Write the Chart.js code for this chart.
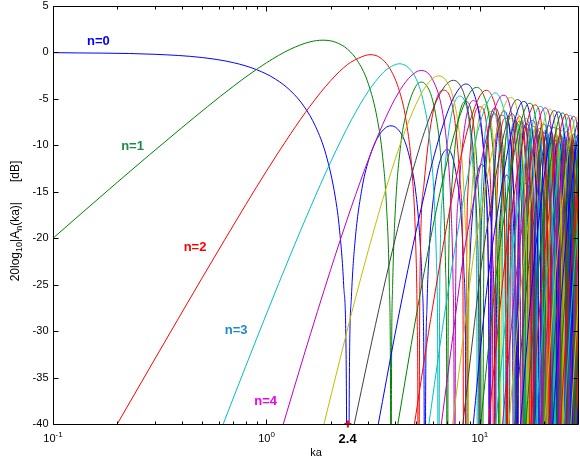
<!DOCTYPE html>
<html><head><meta charset="utf-8">
<script src="https://cdn.jsdelivr.net/npm/chart.js@4.4.1/dist/chart.umd.min.js"></script>
<style>html,body{margin:0;padding:0;background:#fff}#wrap{width:580px;height:459px;position:relative}</style>
</head><body><div id="wrap"><canvas id="c" width="580" height="459"></canvas></div>
<script>
// ---- axes / labels ----
const xTicksMajor = [0.1, 1, 10];
const xTickLabels = [['10', '-1'], ['10', '0'], ['10', '1']];
const xTicksMinor = [0.2, 0.3, 0.4, 0.5, 0.6, 0.7, 0.8, 0.9, 2, 3, 4, 5, 6, 7, 8, 9, 20];
const yTicks = [5, 0, -5, -10, -15, -20, -25, -30, -35, -40];
const curveLabels = [
  { text: 'n=0', x: 0.1632, y: 1.2, color: '#0000ff' },
  { text: 'n=1', x: 0.2358, y: -10.1, color: '#1e8a4a' },
  { text: 'n=2', x: 0.4627, y: -21.0, color: '#ff0000' },
  { text: 'n=3', x: 0.7205, y: -29.9, color: '#1e88cf' },
  { text: 'n=4', x: 0.9904, y: -37.6, color: '#ee00ee' }
];
const marker = [[2.405, -40]];
const markerLabel = { text: '2.4', x: 2.4 };
const palette = ['#0000ff', '#008000', '#ff0000', '#00bfbf', '#bf00bf', '#bfbf00', '#404040'];

// ---- curves: [ka, dB] ----
const n0 = [[0.1,-0.02],[0.3,-0.2],[0.5,-0.55],[0.7,-1.1],[0.9,-1.86],[1.1,-2.86],[1.3,-4.15],[1.5,-5.82],[1.7,-8.0],[1.9,-11.0],[2.1,-15.57],[2.2,-19.14],[2.3,-25.1],[2.36,-32.5],[2.405,-60],
[2.45,-32.7],[2.5,-26.3],[2.6,-20.3],[2.8,-14.66],[3.0,-11.7],[3.3,-9.26],[3.6,-8.14],[3.83,-7.9],[4.1,-8.21],[4.4,-9.31],[4.7,-11.48],[5.0,-15.01],[5.2,-19.15],[5.35,-24.6],[5.47,-35.3],[5.52,-60],
[5.57,-35.4],[5.65,-27.2],[5.8,-20.75],[6.0,-16.44],[6.3,-13.0],[6.6,-11.24],[7.0,-10.45],[7.4,-11.1],[7.8,-13.6],[8.1,-16.6],[8.4,-23.2],[8.55,-31.0],[8.654,-60],
[8.75,-32.5],[8.97,-22.3],[9.44,-15.1],[10.17,-12.05],[10.99,-15.1],[11.48,-22.3],[11.7,-32.5],[11.79,-60],
[11.89,-33.7],[12.11,-23.4],[12.58,-16.2],[13.32,-13.2],[14.15,-16.2],[14.62,-23.4],[14.84,-33.7],[14.93,-60],
[15.245,-24.3],[16.47,-14.1],[17.757,-24.3],[18.071,-45],
[18.385,-25.1],[19.62,-14.9],[20.898,-25.1],[21.212,-45],
[21.526,-25.7],[22.76,-15.5],[24.038,-25.7],[24.352,-45],
[24.666,-26.3],[25.9,-16.1],[27.18,-26.3],[27.494,-45],
[27.808,-26.8],[29.05,-16.6],[30.32,-26.8]];
const n1 = [[0.1,-20.0],[0.2,-13.98],[0.4,-8.13],[0.7,-3.64],[1.0,-1.11],[1.3,0.37],[1.6,1.14],[1.84,1.32],[2.1,1.11],[2.4,0.34],[2.7,-1.08],[3.0,-3.37],[3.3,-7.1],[3.5,-11.2],[3.65,-16.6],[3.76,-24.9],[3.81,-35.8],[3.832,-60],
[3.85,-35.9],[3.9,-25.05],[4.0,-17.6],[4.25,-10.0],[4.5,-6.7],[5.0,-3.67],[5.33,-3.19],[5.75,-3.94],[6.0,-5.14],[6.25,-7.15],[6.5,-10.24],[6.75,-16.06],[6.9,-23.2],[6.98,-33.4],[7.016,-60],
[7.111,-25.75],[7.332,-15.45],[7.805,-8.25],[8.536,-5.25],[9.384,-8.25],[9.857,-15.45],[10.078,-25.75],[10.173,-60],
[10.488,-16.8],[11.706,-6.62],[13.009,-16.8],[13.324,-45],
[13.639,-17.9],[14.864,-7.66],[16.156,-17.9],[16.471,-45],
[16.786,-18.7],[18.016,-8.5],[19.301,-18.7],[19.616,-45],
[19.93,-19.4],[21.164,-9.2],[22.446,-19.4],[22.76,-45],
[23.074,-20.0],[24.311,-9.8],[25.59,-20.0],[25.904,-45],
[26.218,-20.5],[27.457,-10.33],[28.733,-20.5],[29.047,-45]];
const n2 = [[0.2,-40],[0.3,-33.0],[0.5,-24.26],[0.8,-16.38],[1.0,-12.77],[1.3,-8.73],[1.6,-5.78],[2.0,-3.03],[2.4,-1.29],[2.7,-0.62],[3.054,-0.24],[3.4,-0.55],[3.8,-1.8],[4.2,-4.2],[4.5,-7.22],[4.8,-12.72],[5.0,-20.6],[5.08,-28.5],[5.12,-39.5],[5.136,-60],
[5.234,-24.55],[5.464,-14.25],[5.956,-7.05],[6.706,-4.05],[7.597,-7.05],[8.089,-14.25],[8.319,-24.55],[8.417,-60],
[8.737,-16.06],[10.018,-5.86],[11.3,-16.06],[11.62,-45],
[11.938,-17.3],[13.208,-7.1],[14.478,-17.3],[14.796,-45],
[15.112,-18.25],[16.378,-8.05],[17.644,-18.25],[17.96,-45],
[18.276,-19.0],[19.538,-8.83],[20.801,-19.0],[21.117,-45],
[21.432,-19.7],[22.694,-9.48],[23.955,-19.7],[24.27,-45],
[24.585,-20.25],[25.845,-10.05],[27.105,-20.25],[27.421,-45],
[27.736,-20.75],[28.996,-10.55],[30.26,-20.75]];
const n3 = [[0.627,-40],[0.8,-33.77],[1.0,-28.15],[1.3,-21.69],[1.6,-16.78],[2.0,-11.77],[2.5,-7.26],[3.0,-4.18],[3.5,-2.23],[3.85,-1.5],[4.2,-1.22],[4.6,-1.6],[5.0,-2.74],[5.4,-5.05],[5.8,-9.22],[6.1,-15.63],[6.25,-22.3],[6.34,-32.5],[6.38,-60],
[6.481,-25.2],[6.718,-14.9],[7.225,-7.7],[8.015,-4.7],[8.916,-7.7],[9.423,-14.9],[9.66,-25.2],[9.761,-60],
[10.086,-16.55],[11.388,-6.35],[12.69,-16.55],[13.015,-45],
[13.336,-17.7],[14.619,-7.5],[15.903,-17.7],[16.224,-45],
[16.542,-18.6],[17.816,-8.39],[19.091,-18.6],[19.409,-45],
[19.727,-19.3],[20.996,-9.12],[22.266,-19.3],[22.583,-45],
[22.9,-19.9],[24.165,-9.74],[25.432,-19.9],[25.748,-45],
[26.064,-20.5],[27.328,-10.28],[28.592,-20.5],[28.908,-45],
[29.224,-20.9]];
const n4 = [[1.199,-40],[1.5,-32.56],[2.0,-23.35],[2.5,-16.62],[3.0,-11.56],[3.5,-7.77],[4.0,-5.0],[4.5,-3.14],[5.0,-2.13],[5.318,-1.94],[5.7,-2.22],[6.0,-2.91],[6.6,-5.8],[7.0,-10.02],[7.3,-16.15],[7.48,-24.7],[7.56,-36.4],[7.588,-60],
[7.692,-25.7],[7.936,-15.4],[8.457,-8.2],[9.282,-5.18],[10.196,-8.2],[10.717,-15.4],[10.961,-25.7],[11.065,-60],
[11.396,-17.0],[12.719,-6.76],[14.042,-17.0],[14.373,-45],
[14.697,-18.0],[15.994,-7.84],[17.292,-18.0],[17.616,-45],
[17.937,-18.9],[19.221,-8.68],[20.506,-18.9],[20.827,-45],
[21.146,-19.6],[22.423,-9.38],[23.7,-19.6],[24.019,-45],
[24.337,-20.2],[25.609,-9.97],[26.881,-20.2],[27.199,-45],
[27.516,-20.7],[28.78,-10.49],[30.05,-20.7]];
const n5 = [[1.859,-40],[2.2,-33.2],[2.5,-28.13],[3.0,-21.3],[3.5,-15.87],[4.0,-11.56],[4.5,-8.19],[5.0,-5.64],[5.5,-3.85],[6.0,-2.8],[6.416,-2.52],[6.9,-2.95],[7.4,-4.44],[7.9,-7.67],[8.3,-12.6],[8.55,-18.9],[8.7,-28.5],[8.772,-60],
[8.879,-26.1],[9.128,-15.8],[9.664,-8.6],[10.52,-5.6],[11.447,-8.6],[11.982,-15.8],[12.232,-26.1],[12.339,-60],
[12.675,-17.3],[14.019,-7.11],[15.364,-17.3],[15.7,-45],
[16.028,-18.3],[17.34,-8.14],[18.652,-18.3],[18.98,-45],
[19.304,-19.15],[20.599,-8.95],[21.894,-19.15],[22.218,-45],
[22.539,-19.8],[23.824,-9.61],[25.109,-19.8],[25.43,-45],
[25.75,-20.4],[27.028,-10.18],[28.307,-20.4],[28.627,-45],
[28.945,-20.9],[30.22,-10.7]];
const n6 = [[2.578,-40],[3.0,-32.85],[3.5,-25.86],[4.0,-20.16],[4.5,-15.45],[5.0,-11.63],[5.5,-8.52],[6.0,-6.17],[6.5,-4.45],[7.0,-3.37],[7.501,-3.0],[8.0,-3.41],[8.5,-4.8],[9.0,-7.77],[9.4,-12.17],[9.7,-19.0],[9.86,-28.6],[9.936,-60],
[10.046,-26.5],[10.301,-16.2],[10.849,-9.0],[11.735,-5.98],[12.676,-9.0],[13.224,-16.2],[13.479,-26.5],[13.589,-60],
[13.93,-17.6],[15.297,-7.42],[16.663,-17.6],[17.004,-45],
[17.336,-18.6],[18.662,-8.41],[19.989,-18.6],[20.321,-45],
[20.648,-19.4],[21.953,-9.19],[23.259,-19.4],[23.586,-45],
[23.909,-20.0],[25.203,-9.83],[26.497,-20.0],[26.82,-45],
[27.141,-20.6],[28.425,-10.38],[29.71,-20.6]];
const n7 = [[3.34,-40],[4.0,-30.35],[5.0,-19.43],[6.0,-11.73],[7.0,-6.61],[7.8,-4.24],[8.578,-3.4],[9.3,-4.22],[10.0,-7.26],[10.5,-11.84],[10.8,-17.64],[10.98,-25.8],[11.05,-35.2],[11.086,-60],
[11.198,-26.8],[11.46,-16.5],[12.02,-9.3],[12.93,-6.3],[13.887,-9.3],[14.447,-16.5],[14.709,-26.8],[14.821,-60],
[15.168,-17.9],[16.554,-7.7],[17.941,-17.9],[18.288,-45],
[18.623,-18.9],[19.965,-8.66],[21.306,-18.9],[21.642,-45],
[21.971,-19.6],[23.288,-9.41],[24.606,-19.6],[24.935,-45],
[25.261,-20.2],[26.563,-10.03],[27.865,-20.2],[28.191,-45],
[28.51,-20.7],[29.8,-10.5]];
const n8 = [[4.125,-40],[5.0,-28.68],[6.0,-18.93],[7.0,-11.84],[8.0,-7.0],[9.0,-4.29],[9.647,-3.76],[10.3,-4.37],[11.0,-6.73],[11.6,-11.78],[11.95,-18.47],[12.12,-26.5],[12.19,-36.0],[12.225,-60],
[12.339,-27.1],[12.606,-16.8],[13.178,-9.6],[14.116,-6.6],[15.085,-9.6],[15.657,-16.8],[15.924,-27.1],[16.038,-60],
[16.39,-18.15],[17.796,-7.95],[19.203,-18.15],[19.555,-45],
[19.893,-19.1],[21.25,-8.88],[22.606,-19.1],[22.945,-45],
[23.277,-19.8],[24.606,-9.61],[25.935,-19.8],[26.267,-45],
[26.595,-20.4],[27.906,-10.21],[29.218,-20.4],[29.546,-45]];
const n9 = [[4.935,-40],[5.5,-32.9],[6.0,-27.44],[7.0,-18.57],[8.0,-11.95],[9.0,-7.34],[10.0,-4.67],[10.711,-4.07],[11.4,-4.75],[12.0,-6.73],[12.7,-12.57],[13.05,-19.0],[13.24,-27.3],[13.31,-35.6],[13.354,-60],
[13.471,-27.4],[13.743,-17.1],[14.326,-9.9],[15.286,-6.86],[16.269,-9.9],[16.852,-17.1],[17.124,-27.4],[17.241,-60],
[17.598,-18.4],[19.024,-8.18],[20.45,-18.4],[20.807,-45],
[21.15,-19.3],[22.52,-9.09],[23.891,-19.3],[24.234,-45],
[24.569,-20.0],[25.909,-9.8],[27.249,-20.0],[27.584,-45],
[27.913,-20.5],[29.23,-10.38]];
const n10 = [[5.765,-40],[6.5,-31.5],[7.0,-26.54],[8.0,-18.31],[9.0,-12.06],[10.0,-7.64],[11.0,-5.1],[11.771,-4.35],[12.5,-5.08],[13.2,-7.45],[13.8,-13.07],[14.2,-20.3],[14.38,-29.3],[14.4755,-60],
[14.595,-27.6],[14.872,-17.3],[15.466,-10.1],[16.448,-7.1],[17.444,-10.1],[18.038,-17.3],[18.315,-27.6],[18.434,-60],
[18.795,-18.6],[20.24,-8.4],[21.686,-18.6],[22.047,-45],
[22.393,-19.5],[23.778,-9.28],[25.163,-19.5],[25.51,-45],
[25.847,-20.2],[27.198,-9.97],[28.55,-20.2],[28.887,-45],
[29.225,-20.7]];
const n11 = [[6.594,-40],[7.517,-30],[8.352,-22.08],[9.235,-16.57],[11.0,-8.19],[12.827,-4.61],[13.838,-5.86],[14.884,-12.06],[15.302,-19.3],[15.512,-30.7],[15.59,-50],
[15.993,-17.5],[17.603,-7.32],[19.213,-17.5],[19.616,-45],
[19.982,-18.8],[21.446,-8.59],[22.91,-18.8],[23.276,-45],
[23.626,-19.7],[25.025,-9.46],[26.424,-19.7],[26.773,-45],
[27.116,-20.3],[28.49,-10.14],[29.86,-20.3]];
const n12 = [[7.448,-40],[8.421,-30],[9.274,-22.32],[10.183,-16.81],[12.0,-8.43],[13.883,-4.86],[14.911,-6.1],[15.978,-12.3],[16.405,-19.54],[16.618,-30.9],[16.698,-50],
[17.107,-17.7],[18.744,-7.52],[20.381,-17.7],[20.79,-45],
[21.16,-19.0],[22.642,-8.77],[24.124,-19.0],[24.495,-45],
[24.848,-19.8],[26.261,-9.62],[27.674,-19.8],[28.027,-45],
[28.374,-20.5],[29.76,-10.3]];
const n13 = [[8.315,-40],[9.333,-30],[10.201,-22.54],[11.134,-17.03],[13.0,-8.65],[14.932,-5.08],[15.979,-6.32],[17.067,-12.52],[17.502,-19.76],[17.72,-31.2],[17.801,-50],
[18.217,-17.9],[19.879,-7.71],[21.541,-17.9],[21.956,-45],
[22.331,-19.1],[23.831,-8.94],[25.33,-19.1],[25.705,-45],
[26.062,-20.0],[27.488,-9.78],[28.914,-20.0],[29.271,-45]];
const n14 = [[9.304,-40],[10.251,-30],[11.131,-22.74],[12.087,-17.23],[14.0,-8.85],[15.979,-5.28],[17.045,-6.52],[18.152,-12.72],[18.595,-19.96],[18.817,-31.4],[18.9,-50],
[19.322,-18.1],[21.008,-7.89],[22.694,-18.1],[23.116,-45],
[23.495,-19.3],[25.012,-9.11],[26.528,-19.3],[26.907,-45],
[27.273,-20.1],[28.73,-9.93],[30.19,-20.1]];
const n15 = [[10.072,-40],[11.174,-30],[12.064,-22.93],[13.043,-17.42],[15.0,-9.04],[17.024,-5.47],[18.107,-6.71],[19.234,-12.91],[19.684,-20.15],[19.91,-31.5],[19.994,-50],
[20.422,-18.3],[22.132,-8.06],[23.842,-18.3],[24.269,-45],
[24.652,-19.5],[26.186,-9.26],[27.719,-19.5],[28.102,-45],
[28.47,-20.3],[29.95,-10.1]];
const n16 = [[10.961,-40],[12.103,-30],[13.0,-23.1],[14.0,-17.59],[16.0,-9.21],[18.066,-5.65],[19.168,-6.88],[20.312,-13.08],[20.77,-20.32],[20.999,-31.7],[21.085,-50],
[21.518,-18.4],[23.251,-8.21],[24.984,-18.4],[25.417,-45],
[25.804,-19.6],[27.354,-9.4],[28.904,-19.6],[29.291,-45]];
const n17 = [[11.857,-40],[13.034,-30],[13.939,-23.27],[14.959,-17.76],[17.0,-9.38],[19.107,-5.81],[20.225,-7.05],[21.388,-13.25],[21.853,-20.49],[22.085,-31.9],[22.173,-50],
[22.611,-18.6],[24.366,-8.36],[26.121,-18.6],[26.56,-45],
[26.951,-19.7],[28.515,-9.54],[30.08,-19.7]];
const n18 = [[12.756,-40],[13.97,-30],[14.88,-23.43],[15.92,-17.92],[18.0,-9.54],[20.147,-5.97],[21.281,-7.21],[22.46,-13.41],[22.932,-20.65],[23.168,-32.0],[23.257,-50],
[23.701,-18.7],[25.477,-8.5],[27.253,-18.7],[27.698,-45],
[28.093,-19.9],[29.67,-9.7]];
const n19 = [[13.66,-40],[14.907,-30],[15.823,-23.58],[16.882,-18.07],[19.0,-9.69],[21.185,-6.12],[22.335,-7.36],[23.531,-13.56],[24.009,-20.8],[24.248,-32.2],[24.338,-50],
[24.788,-18.8],[26.585,-8.63],[28.382,-18.8],[28.832,-45],
[29.23,-20.0]];
const n20 = [[14.57,-40],[15.849,-30],[16.768,-23.72],[17.846,-18.21],[20.0,-9.83],[22.222,-6.26],[23.388,-7.5],[24.599,-13.7],[25.084,-20.94],[25.325,-32.3],[25.417,-50],
[25.871,-19.0],[27.689,-8.76],[29.508,-19.0]];
const n21 = [[15.482,-40],[16.793,-30],[17.715,-23.86],[18.81,-18.35],[21.0,-9.97],[23.257,-6.4],[24.438,-7.64],[25.665,-13.84],[26.156,-21.08],[26.401,-32.5],[26.494,-50],
[26.955,-19.1],[28.8,-8.89],[30.64,-19.1]];
const n22 = [[16.4,-40],[17.741,-30],[18.664,-23.98],[19.776,-18.47],[22.0,-10.09],[24.292,-6.52],[25.487,-7.76],[26.729,-13.96],[27.226,-21.2],[27.474,-32.6],[27.568,-50],
[28.033,-19.2],[29.89,-9.0]];
const n23 = [[17.319,-40],[18.689,-30],[19.614,-24.11],[20.743,-18.6],[23.0,-10.22],[25.325,-6.65],[26.535,-7.89],[27.791,-14.09],[28.294,-21.3],[28.546,-32.7],[28.64,-50],
[29.11,-19.3],[30.99,-9.1]];
const n24 = [[18.241,-40],[19.639,-30],[20.566,-24.22],[21.711,-18.71],[24.0,-10.33],[26.358,-6.77],[27.581,-8.0],[28.852,-14.2],[29.36,-21.4]];
const n25 = [[19.166,-40],[20.593,-30],[21.519,-24.34],[22.679,-18.83],[25.0,-10.45],[27.389,-6.88],[28.626,-8.12],[29.91,-14.3]];
const n26 = [[20.093,-40],[21.548,-30],[22.473,-24.45],[23.649,-18.94],[26.0,-10.56],[28.42,-6.99],[29.67,-8.23]];
const n27 = [[21.023,-40],[22.504,-30],[23.428,-24.55],[24.619,-19.04],[27.0,-10.66],[28.191,-8.12],[29.45,-7.09]];
const n28 = [[21.956,-40],[23.462,-30],[24.385,-24.65],[25.59,-19.14],[28.0,-10.76],[29.205,-8.22]];
const n29 = [[22.887,-40],[24.421,-30],[25.343,-24.75],[26.562,-19.24],[29.0,-10.86],[30.2,-8.3]];
const n30 = [[23.823,-40],[25.383,-30],[26.301,-24.85],[27.534,-19.34],[30.0,-10.96]];
const n31 = [[24.76,-40],[26.345,-30],[27.26,-24.94],[28.507,-19.43],[31.0,-11.05]];
const n32 = [[25.699,-40],[27.309,-30],[28.22,-25.03],[29.48,-19.52]];
const n33 = [[26.641,-40],[28.271,-30],[29.181,-25.11]];
const n34 = [[27.584,-40],[29.237,-30]];
const n35 = [[28.527,-40],[30.2,-30]];

const curves = [n0,n1,n2,n3,n4,n5,n6,n7,n8,n9,n10,n11,n12,n13,n14,n15,n16,n17,n18,n19,n20,n21,n22,n23,n24,n25,n26,n27,n28,n29,n30,n31,n32,n33,n34,n35];

const FONT = '"Liberation Sans", Arial, Helvetica, sans-serif';

const datasets = curves.map((d, n) => ({
  data: d,
  showLine: true,
  borderColor: palette[n % 7],
  backgroundColor: palette[n % 7],
  borderWidth: 1,
  pointRadius: 0,
  pointHoverRadius: 0,
  pointHitRadius: 0,
  cubicInterpolationMode: 'monotone',
  fill: false,
  order: 100 - n
}));
datasets.push({
  data: marker, showLine: false, pointStyle: 'cross', pointRadius: 3.5,
  borderColor: '#ff0000', backgroundColor: '#ff0000', borderWidth: 2, clip: false, order: 0
});

function richText(ctx, parts, cx, cy, rotate) {
  ctx.save();
  ctx.translate(cx, cy);
  if (rotate) ctx.rotate(-Math.PI / 2);
  let total = 0;
  parts.forEach(p => { ctx.font = p.font; p.w = ctx.measureText(p.t).width; total += p.w; });
  let x = -total / 2;
  ctx.textAlign = 'left';
  ctx.textBaseline = 'alphabetic';
  parts.forEach(p => { ctx.font = p.font; ctx.fillText(p.t, x, p.dy); x += p.w; });
  ctx.restore();
}

const decor = {
  id: 'decor',
  afterDraw(chart) {
    const ctx = chart.ctx, a = chart.chartArea, xs = chart.scales.x, ys = chart.scales.y;
    const L = Math.round(a.left) + 0.5, R = Math.round(a.right) - 0.5;
    const T = Math.round(a.top) + 0.5, B = Math.round(a.bottom) + 0.5;
    ctx.save();
    ctx.strokeStyle = '#000';
    ctx.lineWidth = 1;
    ctx.beginPath();
    ctx.rect(L, T, R - L, B - T);
    yTicks.forEach(v => {
      const p = Math.round(ys.getPixelForValue(v)) + 0.5;
      ctx.moveTo(L, p); ctx.lineTo(L + 5, p);
      ctx.moveTo(R, p); ctx.lineTo(R - 5, p);
    });
    xTicksMajor.forEach(v => {
      const p = Math.round(xs.getPixelForValue(v)) + 0.5;
      ctx.moveTo(p, B); ctx.lineTo(p, B - 5);
      ctx.moveTo(p, T); ctx.lineTo(p, T + 5);
    });
    xTicksMinor.forEach(v => {
      const p = Math.round(xs.getPixelForValue(v)) + 0.5;
      ctx.moveTo(p, B); ctx.lineTo(p, B - 3);
      ctx.moveTo(p, T); ctx.lineTo(p, T + 3);
    });
    ctx.stroke();

    ctx.fillStyle = '#000';
    ctx.font = '11px ' + FONT;
    ctx.textAlign = 'right';
    ctx.textBaseline = 'middle';
    yTicks.forEach(v => ctx.fillText(String(v), L - 5, ys.getPixelForValue(v)));

    xTicksMajor.forEach((v, i) => {
      const p = xs.getPixelForValue(v);
      const [base, sup] = xTickLabels[i];
      ctx.font = '11px ' + FONT; const wb = ctx.measureText(base).width;
      ctx.font = '8px ' + FONT; const ws = ctx.measureText(sup).width;
      const x0 = p - (wb + ws) / 2;
      ctx.textAlign = 'left'; ctx.textBaseline = 'alphabetic';
      ctx.font = '11px ' + FONT; ctx.fillText(base, x0, 442);
      ctx.font = '8px ' + FONT; ctx.fillText(sup, x0 + wb, 437);
    });

    ctx.textAlign = 'center';
    ctx.textBaseline = 'alphabetic';
    ctx.font = 'bold 13px ' + FONT;
    ctx.fillText(markerLabel.text, xs.getPixelForValue(markerLabel.x), 443);
    ctx.font = '11px ' + FONT;
    ctx.fillText('ka', (L + R) / 2, 456);

    richText(ctx, [
      { t: '20log', font: '12px ' + FONT, dy: 3.5 },
      { t: '10', font: '9px ' + FONT, dy: 7 },
      { t: '|A', font: '12px ' + FONT, dy: 3.5 },
      { t: 'n', font: '9px ' + FONT, dy: 7 },
      { t: '(ka)|', font: '12px ' + FONT, dy: 3.5 },
      { t: '      [dB]', font: '12px ' + FONT, dy: 3.5 }
    ], 15, 221, true);

    ctx.font = 'bold 13px ' + FONT;
    ctx.textAlign = 'center';
    ctx.textBaseline = 'middle';
    curveLabels.forEach(l => {
      ctx.fillStyle = l.color;
      ctx.fillText(l.text, xs.getPixelForValue(l.x), ys.getPixelForValue(l.y));
    });
    ctx.restore();
  }
};

new Chart(document.getElementById('c'), {
  type: 'scatter',
  data: { datasets },
  options: {
    responsive: false,
    devicePixelRatio: 1,
    animation: false,
    events: [],
    layout: { autoPadding: false, padding: { left: 53, right: 1, top: 6, bottom: 35 } },
    elements: { line: { capBezierPoints: false } },
    scales: {
      x: { type: 'logarithmic', min: 0.1, max: 29.1, display: false },
      y: { type: 'linear', min: -40, max: 5, display: false }
    },
    plugins: { legend: { display: false }, tooltip: { enabled: false } }
  },
  plugins: [decor]
});
</script>
</body></html>
